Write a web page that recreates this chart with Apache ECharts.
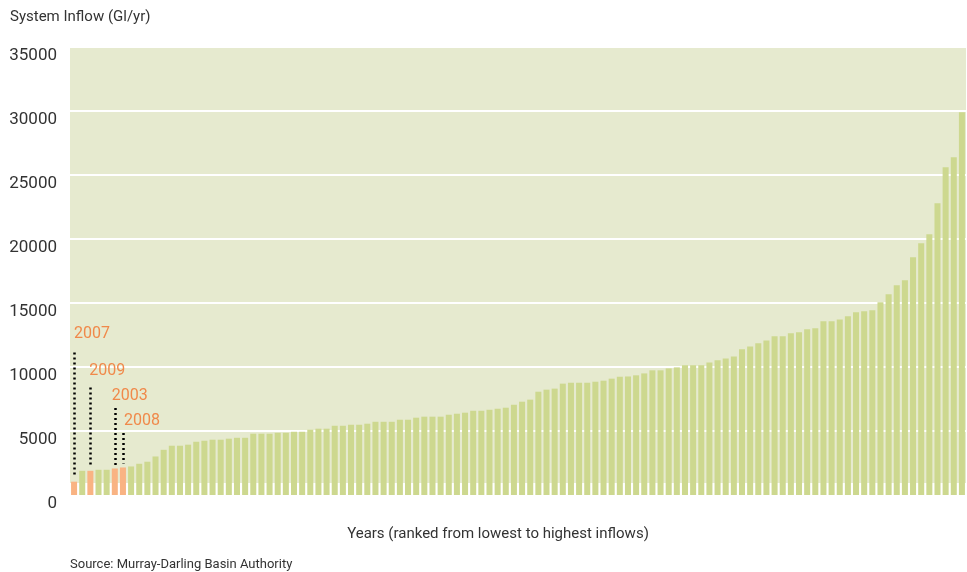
<!DOCTYPE html>
<html>
<head>
<meta charset="utf-8">
<script src="https://cdn.jsdelivr.net/npm/echarts@6/dist/echarts.min.js"></script>
<style>
html,body{margin:0;padding:0;background:#fff;}
#chart{width:967px;height:572px;}
</style>
</head>
<body>
<div id="chart"></div>
<script>
// Ranked annual system inflows (GL/yr), lowest to highest
const inflows = [
  1040, 1890, 1890, 1970, 1970, 2070, 2150, 2230, 2440, 2600,
  3010, 3530, 3850, 3850, 3930, 4160, 4240, 4320, 4320, 4400,
  4470, 4470, 4790, 4790, 4790, 4860, 4860, 4940, 4940, 5100,
  5180, 5180, 5410, 5410, 5490, 5490, 5570, 5720, 5720, 5720,
  5880, 5880, 6040, 6120, 6120, 6120, 6270, 6350, 6430, 6580,
  6580, 6660, 6740, 6820, 7050, 7290, 7450, 8070, 8230, 8310,
  8700, 8770, 8770, 8770, 8850, 8930, 9090, 9240, 9260, 9350,
  9500, 9740, 9740, 9890, 9970, 10130, 10130, 10130, 10360, 10520,
  10670, 10830, 11380, 11610, 11850, 12080, 12400, 12400, 12630, 12710,
  12940, 13020, 13570, 13570, 13720, 13960, 14270, 14350, 14430, 15050,
  15680, 16380, 16770, 18570, 19670, 20370, 22800, 25610, 26390, 29900
];
// Highlighted drought years (rank index) and their annotation geometry in data units
const highlightYears = ['2007', '2009', '2003', '2008'];
const highlightIndex = [0, 2, 5, 6];
const annoLineTop = [11140, 8400, 6800, 4840];
const annoLineBottom = [1370, 2150, 2290, 2460];
const annoLabelValue = [12600, 9710, 7760, 5800];
const yTicks = [0, 5000, 10000, 15000, 20000, 25000, 30000, 35000];

const categories = inflows.map((v, i) => String(i + 1));
const FONT = "Roboto, 'Liberation Sans', sans-serif";
const GREEN = '#cdd88f';
const ORANGE_BAR = '#f9b383';
const ORANGE_TEXT = '#f0894a';
const BG = '#e6eacf';
const labelDx = [0, -1, -3, 1];

const barData = inflows.map((v, i) => {
  const h = highlightIndex.indexOf(i);
  return { value: v, itemStyle: { color: h >= 0 ? ORANGE_BAR : GREEN } };
});

const chart = echarts.init(document.getElementById('chart'));
chart.setOption({
  animation: false,
  textStyle: { fontFamily: FONT },
  title: [
    { text: 'System Inflow (Gl/yr)', left: 5, top: 5,
      textStyle: { fontFamily: FONT, fontSize: 15, fontWeight: 'normal', color: '#333' } },
    { text: 'Source: Murray-Darling Basin Authority', left: 65, top: 553,
      textStyle: { fontFamily: FONT, fontSize: 13, fontWeight: 'normal', color: '#333' } }
  ],
  grid: { left: 70, right: 1, top: 47, bottom: 77, containLabel: false,
    show: true, backgroundColor: BG, borderWidth: 0 },
  xAxis: {
    type: 'category',
    data: categories,
    axisLine: { show: false },
    axisTick: { show: false },
    axisLabel: { show: false },
    name: 'Years (ranked from lowest to highest inflows)',
    nameLocation: 'middle',
    nameGap: 32,
    nameTextStyle: { fontFamily: FONT, fontSize: 15, color: '#333', padding: [0, 40, 0, 0] }
  },
  yAxis: {
    type: 'value',
    min: yTicks[0],
    max: yTicks[yTicks.length - 1],
    interval: 5000,
    axisLine: { show: false },
    axisTick: { show: false },
    axisLabel: { fontFamily: FONT, fontSize: 17, color: '#333', margin: 13, verticalAlign: 'top',
      formatter: v => String(v) },
    splitLine: { show: true, lineStyle: { color: '#ffffff', width: 2 } }
  },
  series: [{
    type: 'bar',
    data: barData,
    barCategoryGap: '26%',
    markArea: {
      silent: true,
      itemStyle: { color: '#ffffff' },
      data: [[{ yAxis: 0 }, { yAxis: 930 }]]
    },
    markLine: {
      silent: true,
      symbol: ['none', 'none'],
      label: { show: false },
      lineStyle: { color: '#000', type: [2, 3], width: 2.5 },
      data: highlightIndex.map((idx, k) => [
        { coord: [idx, annoLineTop[k]] },
        { coord: [idx, annoLineBottom[k]] }
      ])
    },
    markPoint: {
      silent: true,
      symbol: 'circle',
      symbolSize: 1,
      itemStyle: { color: 'rgba(0,0,0,0)' },
      data: highlightIndex.map((idx, k) => ({
        coord: [idx, annoLabelValue[k]],
        label: {
          show: true,
          formatter: highlightYears[k],
          position: 'inside',
          align: 'left',
          verticalAlign: 'middle',
          offset: [labelDx[k], 0],
          fontFamily: FONT,
          fontSize: 16,
          color: ORANGE_TEXT
        }
      }))
    }
  }]
});
</script>
</body>
</html>
